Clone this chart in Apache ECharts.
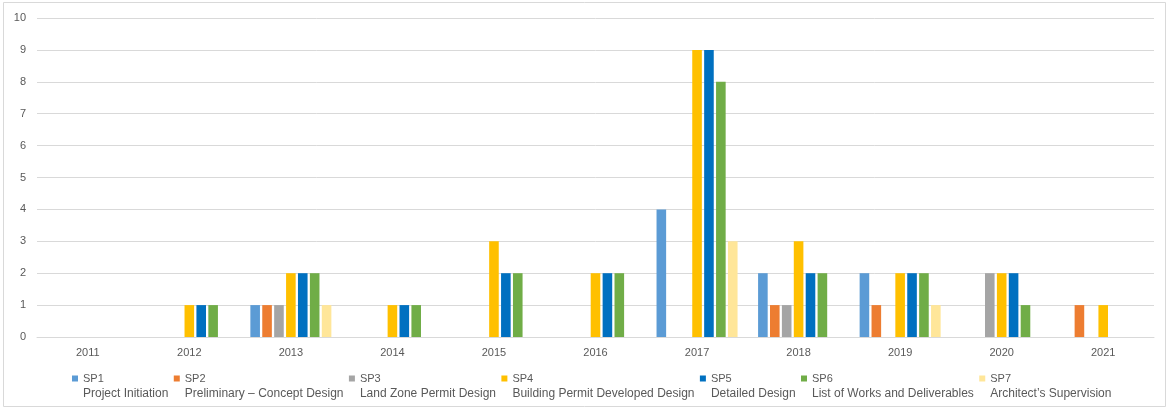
<!DOCTYPE html>
<html>
<head>
<meta charset="utf-8">
<script src="https://cdn.jsdelivr.net/npm/echarts@6/dist/echarts.min.js"></script>
<style>
  html, body { margin: 0; padding: 0; background: #fff; }
  #chart { width: 1169px; height: 409px; }
</style>
</head>
<body>
<div id="chart"></div>
<script>
// Years on the category axis
const years = ['2011', '2012', '2013', '2014', '2015', '2016', '2017', '2018', '2019', '2020', '2021'];

// Counts per year for each stage
const sp1 = [0, 0, 1, 0, 0, 0, 4, 2, 2, 0, 0];
const sp2 = [0, 0, 1, 0, 0, 0, 0, 1, 1, 0, 1];
const sp3 = [0, 0, 1, 0, 0, 0, 0, 1, 0, 2, 0];
const sp4 = [0, 1, 2, 1, 3, 2, 9, 3, 2, 2, 1];
const sp5 = [0, 1, 2, 1, 2, 2, 9, 2, 2, 2, 0];
const sp6 = [0, 1, 2, 1, 2, 2, 8, 2, 2, 1, 0];
const sp7 = [0, 0, 1, 0, 0, 0, 3, 0, 1, 0, 0];

// Stage codes and their descriptions
const stageCodes = ['SP1', 'SP2', 'SP3', 'SP4', 'SP5', 'SP6', 'SP7'];
const stageNames = [
  'Project Initiation',
  'Preliminary \u2013 Concept Design',
  'Land Zone Permit Design',
  'Building Permit Developed Design',
  'Detailed Design',
  'List of Works and Deliverables',
  'Architect\u2019s Supervision'
];
const stageData = [sp1, sp2, sp3, sp4, sp5, sp6, sp7];
const stageColors = ['#5B9BD5', '#ED7D31', '#A5A5A5', '#FFC000', '#0070C0', '#70AD47', '#FFE699'];

// Y-axis tick range
const yMin = 0, yMax = 10, yStep = 1;

const font = '"Liberation Sans", Arial, sans-serif';
const textColor = '#595959';
const gridColor = '#D9D9D9';

const chart = echarts.init(document.getElementById('chart'), null, { renderer: 'canvas' });

const series = stageCodes.map((code, i) => ({
  name: code,
  type: 'bar',
  data: stageData[i],
  barWidth: 9.6,
  barGap: '24%',
  itemStyle: { color: stageColors[i] },
  emphasis: { disabled: true }
}));

chart.setOption({
  animation: false,
  backgroundColor: '#fff',
  textStyle: { fontFamily: font },
  color: stageColors,
  graphic: [{
    type: 'rect',
    shape: { x: 3.5, y: 2.5, width: 1162, height: 404 },
    style: { fill: 'none', stroke: gridColor, lineWidth: 1 },
    silent: true,
    z: -1
  }],
  grid: { left: 37, right: 15, top: 18, bottom: 72, containLabel: false },
  legend: {
    left: 72,
    top: 356,
    padding: 0,
    itemWidth: 6,
    itemHeight: 6,
    itemGap: 5.4,
    icon: 'rect',
    selectedMode: false,
    data: stageCodes,
    // blank first line keeps the swatch level with the code line
    formatter: (name) => {
      const i = stageCodes.indexOf(name);
      return '{e|}\n{c|' + name + '}\n{d|' + stageNames[i] + '}';
    },
    textStyle: {
      fontFamily: font,
      fontSize: 12,
      lineHeight: 15,
      color: textColor,
      rich: {
        e: { fontSize: 12, lineHeight: 15 },
        c: { fontSize: 11, lineHeight: 15, color: textColor, fontFamily: font },
        d: { fontSize: 12, lineHeight: 15, color: textColor, fontFamily: font }
      }
    }
  },
  xAxis: {
    type: 'category',
    data: years,
    axisLine: { show: true, lineStyle: { color: gridColor, width: 1 } },
    axisTick: { show: false },
    axisLabel: { color: textColor, fontSize: 11, fontFamily: font, margin: 10 },
    splitLine: { show: false }
  },
  yAxis: {
    type: 'value',
    min: yMin,
    max: yMax,
    interval: yStep,
    axisLine: { show: false },
    axisTick: { show: false },
    axisLabel: { color: textColor, fontSize: 11, fontFamily: font, margin: 11 },
    splitLine: { lineStyle: { color: gridColor, width: 1 } }
  },
  series: series
});
</script>
</body>
</html>
